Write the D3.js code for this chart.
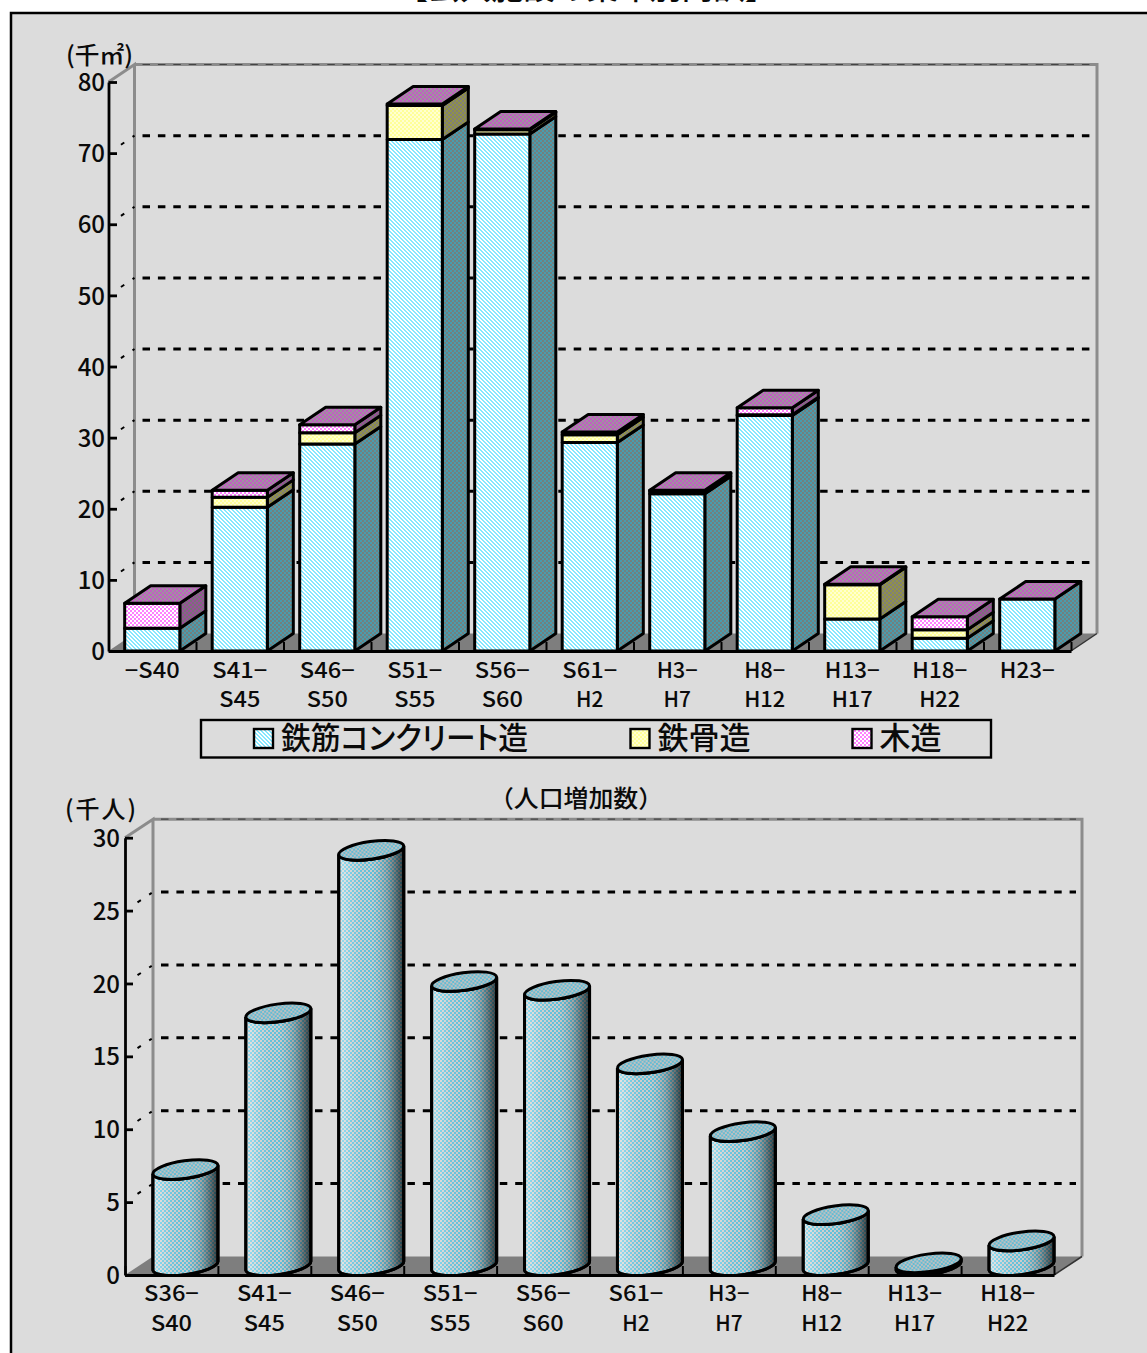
<!DOCTYPE html>
<html lang="ja">
<head>
<meta charset="utf-8">
<script src="https://cdn.jsdelivr.net/npm/d3@7/dist/d3.min.js"></script>
<style>
html,body{margin:0;padding:0;background:#fff;overflow:hidden}
svg{display:block}
text{font-family:"Noto Sans CJK JP","Noto Sans",sans-serif;fill:#0a0a0a;font-weight:500;font-feature-settings:"palt"}
</style>
</head>
<body>
<script>
// ---- data ----
const buildingCats = [["−S40"],["S41−","S45"],["S46−","S50"],["S51−","S55"],["S56−","S60"],["S61−","H2"],["H3−","H7"],["H8−","H12"],["H13−","H17"],["H18−","H22"],["H23−"]];
const concrete = [3.2,20.2,29.1,71.9,72.7,29.3,22.1,33.1,4.5,1.8,7.3];
const steel    = [0,1.4,1.6,4.8,0.6,1.1,0.4,0.1,4.8,1.2,0];
const wood     = [3.5,1.0,1.1,0.2,0.1,0.4,0.1,1.0,0.1,1.8,0];
const buildingTicks = [0,10,20,30,40,50,60,70,80];
const popCats = [["S36−","S40"],["S41−","S45"],["S46−","S50"],["S51−","S55"],["S56−","S60"],["S61−","H2"],["H3−","H7"],["H8−","H12"],["H13−","H17"],["H18−","H22"]];
const popGrowth = [6.6,17.35,28.5,19.5,18.9,13.85,9.2,3.5,0.2,1.7];
const popTicks = [0,5,10,15,20,25,30];
const legendItems = ["鉄筋コンクリート造","鉄骨造","木造"];
const titleText = "【公共施設の築年別内訳】";
const subTitle = "（人口増加数）";

// ---- page ----
const W = 1147, H = 1353;
const svg = d3.select("body").append("svg").attr("width",W).attr("height",H);
const defs = svg.append("defs");

function pattern(id, colors, rows){
  const cells = [];
  rows.forEach((r,j)=>r.split("").forEach((c,i)=>cells.push({i,j,c:colors[+c]})));
  const p = defs.append("pattern").attr("id",id).attr("width",rows[0].length).attr("height",rows.length).attr("patternUnits","userSpaceOnUse");
  p.selectAll("rect").data(cells).join("rect").attr("x",d=>d.i).attr("y",d=>d.j).attr("width",1).attr("height",1).attr("shape-rendering","crispEdges").attr("fill",d=>d.c);
}
const zig = ["1100","0110","0011","1001"];
const weave = ["0011","0011","1100","1100"];
pattern("rcF",["#85e8ff","#ffffff"],zig);
pattern("rcS",["#4a9cae","#72807f"],weave);
pattern("stF",["#ffff99","#ffffd0"],weave);
pattern("stS",["#929244","#808078"],weave);
pattern("wdF",["#ff80ff","#ffffff"],weave);
pattern("wdS",["#9a509a","#787078"],weave);
pattern("wdT",["#c060c0","#a090a0"],weave);
pattern("cyl",["#d2d2d2","#5cc6e2"],weave);
pattern("cylT",["#c0c0c0","#62bcd4"],weave);
const grad = defs.append("linearGradient").attr("id","shade");
[[0,"#fff",0.45],[0.12,"#fff",0.25],[0.5,"#888",0.08],[0.75,"#333",0.3],[1,"#000",0.72]].forEach(s=>
  grad.append("stop").attr("offset",s[0]).attr("stop-color",s[1]).attr("stop-opacity",s[2]));

svg.append("rect").attr("x",11).attr("y",13).attr("width",W).attr("height",H).attr("fill","#dcdcdc");
svg.append("path").attr("d",`M11 ${H}V13H${W}`).attr("fill","none").attr("stroke","#000").attr("stroke-width",2.5);
svg.append("text").attr("x",586.5).attr("y",-1).attr("text-anchor","middle").attr("font-size",31).attr("font-weight",700)
  .attr("textLength",380).attr("lengthAdjust","spacingAndGlyphs").style("font-feature-settings","normal").text(titleText);

// ---- shared 3D frame ----
function frame(o){
  const {x,y,dx,dy,ticks,cats,tickRight,labelX,line1,line2} = o;
  const g = svg.append("g");
  const [x0,x1] = x.range(), y0 = y(0), yt = y(ticks[ticks.length-1]);
  g.append("path").attr("d",`M${x0} ${y0}L${x0+dx} ${y0-dy}H${x1+dx}L${x1} ${y0}Z`).attr("fill","#7e7e7e");
  g.append("path").attr("d",`M${x0} ${yt}L${x0+dx} ${yt-dy}V${y0-dy}M${x0+dx} ${yt-dy}H${x1+dx}V${y0-dy}`)
    .attr("fill","none").attr("stroke","#8c8c8c").attr("stroke-width",3);
  ticks.slice(1).forEach((t)=>{
    const last = t===ticks[ticks.length-1];
    g.append("line").attr("x1",x0+dx+8).attr("x2",x1+dx-6).attr("y1",y(t)-dy).attr("y2",y(t)-dy)
      .attr("stroke",last?"#444":"#000").attr("stroke-width",last?1.2:3).attr("stroke-dasharray","7.5 7.9");
    if(!last){
      g.append("line").attr("x1",x0).attr("y1",y(t)).attr("x2",x0+dx).attr("y2",y(t)-dy)
        .attr("stroke","#000").attr("stroke-width",2).attr("stroke-dasharray","0 15 4 10 3 10");
    }
  });
  g.append("line").attr("x1",x1).attr("y1",y0).attr("x2",x1+dx).attr("y2",y0-dy).attr("stroke","#333").attr("stroke-width",1.5);

  const yAxis = d3.axisLeft(y).tickValues(ticks).tickSizeInner(-tickRight).tickSizeOuter(0).tickPadding(0).tickFormat(d3.format("d"));
  const ag = g.append("g").attr("transform",`translate(${x0},0)`).call(yAxis);
  ag.attr("font-family",null);
  ag.select(".domain").attr("stroke","#000").attr("stroke-width",2.8);
  ag.selectAll(".tick line").attr("stroke","#000").attr("stroke-width",2.8);
  ag.selectAll(".tick text").attr("x",labelX-x0).attr("dy",".36em").attr("font-size",24).attr("text-anchor","end").style("fill","#0a0a0a");

  // floor ticks at category boundaries
  const step = x.step();
  const bx = d3.scaleLinear().domain([0,cats.length]).range([x0,x1]);
  const bAxis = d3.axisBottom(bx).tickValues(d3.range(0,cats.length+1)).tickSizeInner(-9).tickSizeOuter(0).tickFormat("");
  const bg = g.append("g").attr("transform",`translate(0,${y0})`).call(bAxis);
  bg.select(".domain").attr("stroke","#000").attr("stroke-width",2.8);
  bg.selectAll(".tick line").attr("stroke","#000").attr("stroke-width",2);

  const lab = g.append("g");
  cats.forEach((c,i)=>{
    const cx = bx(i)+step/2;
    c.forEach((s,j)=>lab.append("text").attr("x",cx).attr("y",j?line2:line1).attr("text-anchor","middle").attr("font-size",21.5)
      .attr("textLength",s.length*13.7).attr("lengthAdjust","spacingAndGlyphs").style("font-feature-settings","normal").text(s));
  });
  return g;
}

// ---- chart 1: stacked boxes ----
const y1 = d3.scaleLinear().domain([0,80]).range([651,82]);
const x1 = d3.scaleBand().domain(d3.range(buildingCats.length)).range([108.5,1071]).paddingInner(0.37).paddingOuter(0.185);
const dx1 = 26, dy1 = 17.5;
frame({x:x1,y:y1,dx:dx1,dy:dy1,ticks:buildingTicks,cats:buildingCats,tickRight:8.5,labelX:105,line1:678,line2:707});

const boxes = svg.append("g").attr("stroke","#000").attr("stroke-width",3).attr("stroke-linejoin","round");
buildingCats.forEach((c,i)=>{
  const l = x1(i), r = l + x1.bandwidth();
  let acc = 0;
  [[concrete,"rcF","rcS"],[steel,"stF","stS"],[wood,"wdF","wdS"]].forEach(([arr,f,s])=>{
    const v = arr[i];
    if(!v) return;
    const b = y1(acc), t = y1(acc+v);
    boxes.append("path").attr("d",`M${r} ${b}L${r+dx1} ${b-dy1}V${t-dy1}L${r} ${t}Z`).attr("fill",`url(#${s})`);
    boxes.append("rect").attr("x",l).attr("y",t).attr("width",r-l).attr("height",b-t).attr("fill",`url(#${f})`);
    acc += v;
  });
  const t = y1(acc);
  boxes.append("path").attr("d",`M${l} ${t}L${l+dx1} ${t-dy1}H${r+dx1}L${r} ${t}Z`).attr("fill","url(#wdT)");
});

// legend
const legend = svg.append("g");
legend.append("rect").attr("x",201).attr("y",720).attr("width",790).attr("height",37.5).attr("fill","none").attr("stroke","#000").attr("stroke-width",2.4);
const legendX = d3.scaleOrdinal().domain(legendItems).range([254,630.5,852.5]);
const legendFill = d3.scaleOrdinal().domain(legendItems).range(["rcF","stF","wdF"]);
const legendLen = d3.scaleOrdinal().domain(legendItems).range([247,93,62]);
legendItems.forEach(t=>{
  legend.append("rect").attr("x",legendX(t)).attr("y",729).attr("width",19).attr("height",19).attr("fill",`url(#${legendFill(t)})`).attr("stroke","#000").attr("stroke-width",2.4);
  legend.append("text").attr("x",legendX(t)+27).attr("y",749).attr("font-size",30.5).attr("textLength",legendLen(t)).attr("lengthAdjust","spacingAndGlyphs").text(t);
});

// ---- chart 2: cylinders ----
const y2 = d3.scaleLinear().domain([0,30]).range([1275,837.7]);
const x2 = d3.scaleBand().domain(d3.range(popCats.length)).range([125,1054]);
const dx2 = 28, dy2 = 18.5;
frame({x:x2,y:y2,dx:dx2,dy:dy2,ticks:popTicks,cats:popCats,tickRight:8,labelX:120,line1:1301,line2:1331});
svg.append("text").attr("x",576).attr("y",807).attr("text-anchor","middle").attr("font-size",24)
  .attr("textLength",174).attr("lengthAdjust","spacingAndGlyphs").style("font-feature-settings","normal").text(subTitle);

const rx = 32.8, ry = 8.8, tilt = -8, th = tilt*Math.PI/180;
const tt = Math.atan(-(ry/rx)*Math.tan(th));
const ex = rx*Math.cos(tt)*Math.cos(th) - ry*Math.sin(tt)*Math.sin(th);
const ey = rx*Math.cos(tt)*Math.sin(th) + ry*Math.sin(tt)*Math.cos(th);
const cyl = svg.append("g").attr("stroke","#000").attr("stroke-width",3);
popCats.forEach((c,i)=>{
  const cx = x2(i)+x2.bandwidth()/2+dx2/2;
  const by = y2(0)-dy2/2, ty = y2(popGrowth[i])-dy2/2;
  const d = `M${cx-ex} ${ty-ey}L${cx-ex} ${by-ey}A${rx} ${ry} ${tilt} 0 0 ${cx+ex} ${by+ey}L${cx+ex} ${ty+ey}A${rx} ${ry} ${tilt} 0 1 ${cx-ex} ${ty-ey}Z`;
  cyl.append("path").attr("d",d).attr("fill","url(#cyl)");
  cyl.append("path").attr("d",d).attr("fill","url(#shade)");
  cyl.append("ellipse").attr("rx",rx).attr("ry",ry).attr("transform",`translate(${cx},${ty}) rotate(${tilt})`).attr("fill","url(#cylT)");
});

// unit labels
svg.append("text").attr("x",66).attr("y",64).attr("font-size",24).attr("textLength",67).attr("lengthAdjust","spacingAndGlyphs").text("(千㎡)");
svg.append("text").attr("x",65).attr("y",818).attr("font-size",24).attr("textLength",71).text("(千人)");
</script>
</body>
</html>
